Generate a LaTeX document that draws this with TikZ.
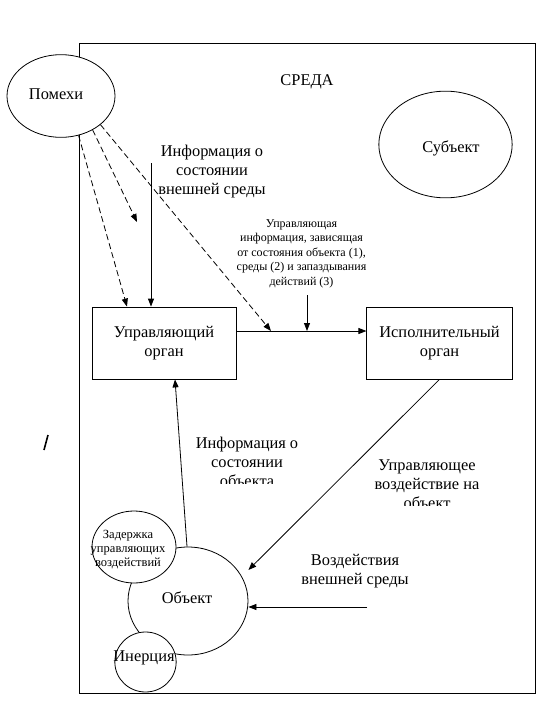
\documentclass[tikz,border=0pt]{standalone}
\usepackage{fontspec}
\setmainfont{Liberation Serif}
\usetikzlibrary{shapes.geometric,arrows.meta}
\begin{document}
\begin{tikzpicture}[x=0.75pt,y=-0.75pt,
  line width=0.6pt,
  arr/.style={-{Triangle[length=6pt,width=4.5pt]}},
  dsh/.style={dash pattern=on 4.5pt off 2.5pt},
  oval/.style={draw,ellipse,inner sep=0pt,fill=white},
  box/.style={draw,rectangle,minimum width=108pt,minimum height=54pt,align=center,font=\fontsize{12.3}{14.25}\selectfont},
  big/.style={font=\fontsize{12.3}{14.25}\selectfont,align=center,inner sep=0pt},
  small/.style={font=\fontsize{9}{10.9}\selectfont,align=center,inner sep=0pt}]
\useasboundingbox (0,0) rectangle (543,707);
% environment frame
\draw (79,43) rectangle (535,693);
\node[big] (sreda) at (307,82) {СРЕДА};
% ovals
\node[oval,minimum width=81pt,minimum height=62pt] (pom) at (61,96) {};
\node[big] (pomt) at (56,94) {Помехи};
\node[oval,minimum width=100pt,minimum height=80pt] (subj) at (445.5,144.5) {};
\node[big] (subjt) at (451,148) {Субъект};
% boxes
\node[box] (upr) at (164,343) {Управляющий\\орган};
\node[box,minimum width=109pt] (isp) at (439.5,343) {Исполнительный\\орган};
% object group
\node[oval,minimum width=90pt,minimum height=81pt] (obj) at (188,601) {};
\node[big] (objt) at (187,598) {Объект};
\node[oval,minimum width=63pt,minimum height=54pt] (zad) at (134,547) {};
\node[small,font=\fontsize{9.4}{10.5}\selectfont] (zadt) at (128,550) {Задержка\\управляющих\\воздействий};
\node[oval,minimum width=46pt,minimum height=45pt] (iner) at (145.5,662) {};
\node[big] (inert) at (144,658) {Инерция};
% texts
\node[big] (envinfo) at (212,172) {Информация о\\состоянии\\внешней среды};
\node[small] (ctrlinfo) at (301.5,253.5) {Управляющая\\информация, зависящая\\от состояния объекта (1),\\среды (2) и запаздывания\\действий (3)};
\begin{scope}
\clip (180,420) rectangle (320,483);
\node[big] (objinfo) at (247,462) {Информация о\\состоянии\\объекта};
\end{scope}
\begin{scope}
\clip (340,440) rectangle (520,505);
\node[big] (uprv) at (427,484) {Управляющее\\воздействие на\\объект};
\end{scope}
\node[big] (extv) at (355,571) {Воздействия\\внешней среды};
% coordinates
\coordinate (d2end) at (137,222);
\coordinate (d3end) at (271,331);
\coordinate (envtop) at (151,163);
\coordinate (ctrltop) at (307,295);
\coordinate (ctrlend) at (307,331);
\coordinate (extstart) at (367,607);
% connectors
\draw[arr,dsh] (pom.-66) -- ([xshift=-27.75pt]upr.north);
\draw[arr,dsh] (pom.-47) -- (d2end);
\draw[arr,dsh] (pom.-36) -- (d3end);
\draw[arr] (envtop) -- ([xshift=-9.75pt]upr.north);
\draw[arr] ([yshift=9pt]upr.east) -- ([yshift=9pt]isp.west);
\draw[arr] (ctrltop) -- (ctrlend);
\draw[arr] ([xshift=-0.75pt]obj.north) -- ([xshift=8.25pt]upr.south);
\draw[arr] (isp.south) -- ([yshift=23.25pt]obj.east);
\draw[arr] (extstart) -- ([yshift=-4.5pt]obj.east);
% stray mark
\coordinate (m1) at (48,435);
\coordinate (m2) at (44,450);
\draw[line width=1.2pt] (m1) -- (m2);
\end{tikzpicture}
\end{document}
